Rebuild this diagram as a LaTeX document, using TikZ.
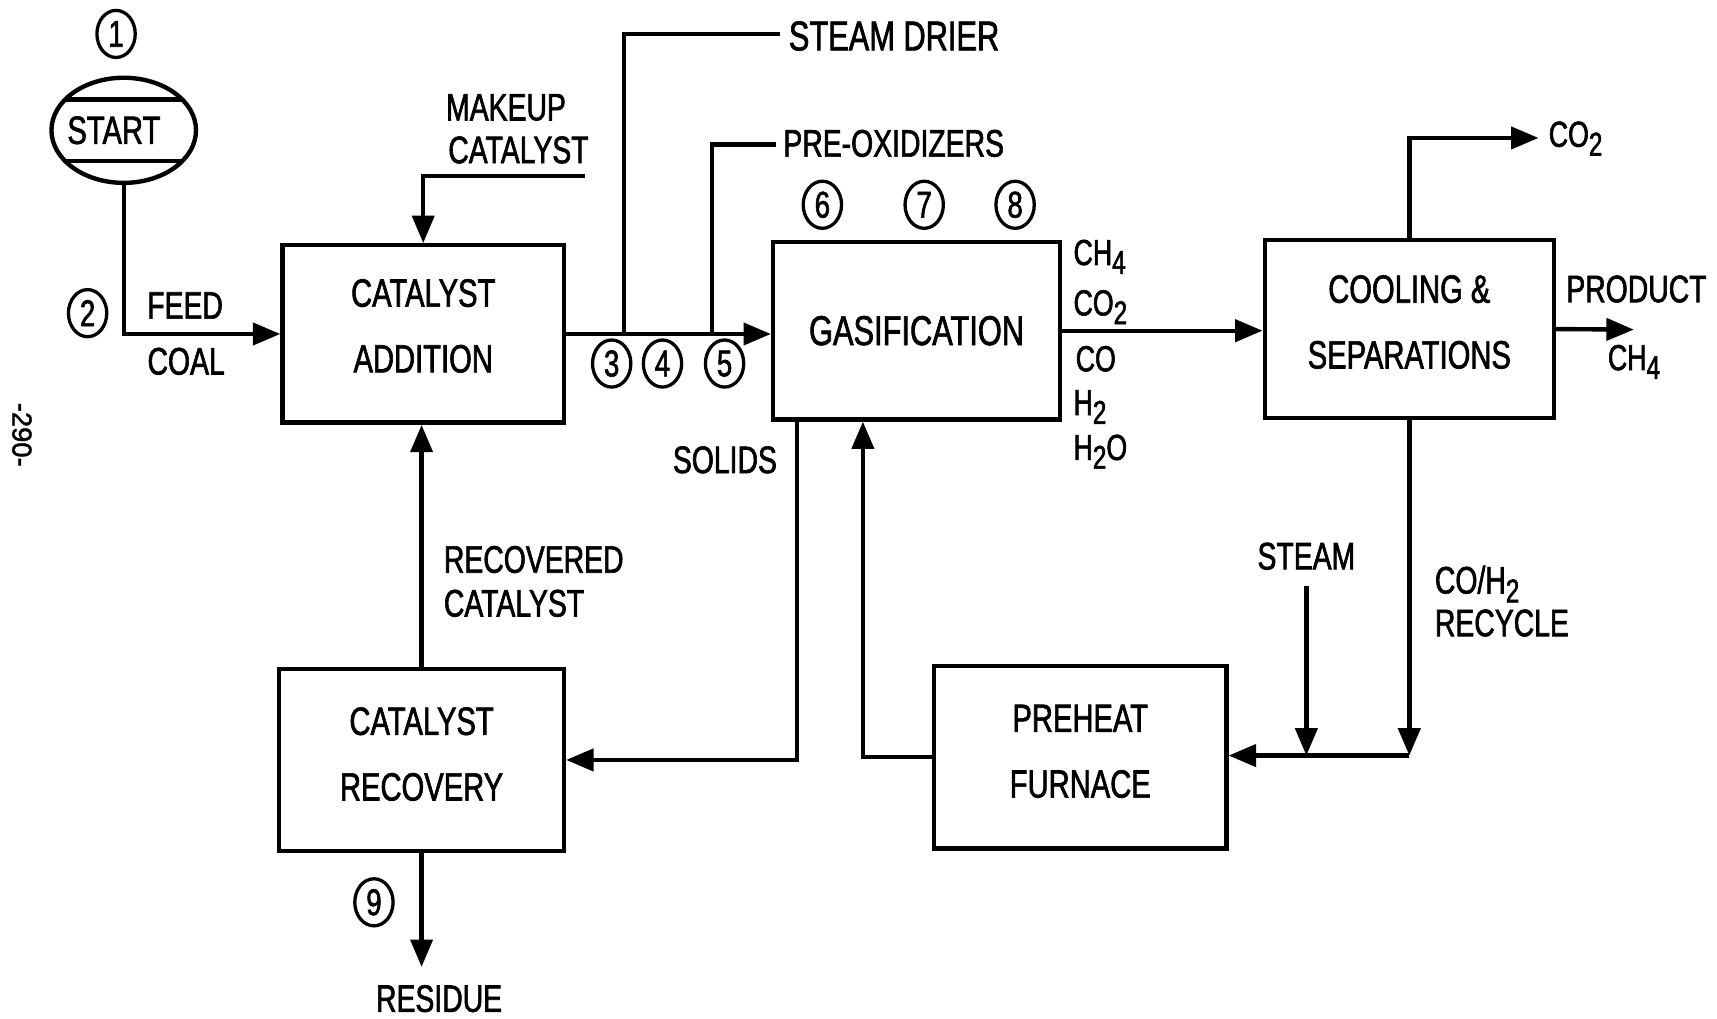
\documentclass[tikz,border=0pt]{standalone}
\usepackage{fontspec}
\setmainfont{Liberation Sans}[FakeStretch=0.74, FakeBold=1.6]
\newfontfamily\plainsans{Liberation Sans}[FakeBold=1.6]
\usetikzlibrary{arrows.meta,shapes.geometric,calc}
\newcommand{\sbs}[1]{\raisebox{-4pt}{\fontsize{15}{15}\selectfont #1}}
\tikzset{
  lw/.style={line width=2pt},
  arr/.style={lw, -{Triangle[length=12.5pt,width=10pt]}},
  blk/.style={draw, lw, rectangle, inner sep=0pt, align=center, font=\fontsize{18}{30}\selectfont},
  lbl/.style={inner sep=0pt, anchor=base, font=\fontsize{17.5}{20}\selectfont},
  spc/.style={inner sep=0pt, anchor=base west, font=\fontsize{16.5}{18}\selectfont},
  circnum/.style={draw, ellipse, line width=1.5pt, minimum width=17.5pt, minimum height=21.5pt, inner sep=0pt, font=\fontsize{17}{17}\selectfont},
  startshape/.style={draw, ellipse, lw, minimum width=66pt, minimum height=48pt, inner sep=0pt, font=\fontsize{18}{20}\selectfont}
}
\begin{document}
\begin{tikzpicture}[x=0.5pt,y=-0.5pt]
\useasboundingbox (0,0) rectangle (1568,930);

% start
\node[circnum] (c1) at (106,31) {1};
\node[startshape] (start) at (113,119) {\hspace*{-9pt}START};
\draw[lw] ($(start.center)+(-53.6,-28)$) -- ($(start.center)+(53.6,-28)$);
\draw[lw] ($(start.center)+(-53.6,28)$) -- ($(start.center)+(53.6,28)$);

% catalyst addition
\node[blk, minimum width=128.5pt, minimum height=81pt, text depth=7.5pt] (cadd) at (386.5,305) {CATALYST\\ADDITION};
\draw[arr] (start.south) |- (cadd.west);
\node[circnum] (c2) at (80,286) {2};
\node[lbl] (feed) at (169,291) {FEED};
\node[lbl] (coal) at (170,342) {COAL};

% makeup catalyst
\coordinate (mk) at (534,161);
\draw[arr] (mk) -| (cadd.north);
\node[lbl, anchor=base west] (makeup) at (407,110) {MAKEUP};
\node[lbl, anchor=base west] (makecat) at (409,149) {CATALYST};

% gasification
\node[blk, minimum width=131pt, minimum height=81pt, font=\fontsize{19}{20}\selectfont] (gas) at (837,302) {GASIFICATION};
\draw[arr] (cadd.east) -- (cadd.east -| gas.west);

\coordinate (j3) at (570,305);
\coordinate (sd) at (712,31);
\draw[lw] (sd) -| (j3);
\node[lbl, anchor=base west, font=\fontsize{19}{20}\selectfont] (sdl) at (720,46) {STEAM DRIER};
\coordinate (j5) at (650,305);
\coordinate (po) at (709,132);
\draw[lw] (po) -| (j5);
\node[lbl, anchor=base west] (pol) at (715,143) {PRE-OXIDIZERS};

\node[circnum] (c3) at (558.6,332) {3};
\node[circnum] (c4) at (605,332) {4};
\node[circnum] (c5) at (661.7,332) {5};
\node[circnum] (c6) at (751,187) {6};
\node[circnum] (c7) at (844,187) {7};
\node[circnum] (c8) at (927,187) {8};

% gas species
\node[spc] (sch4) at (980,242) {CH\sbs{4}};
\node[spc] (sco2) at (980,288) {CO\sbs{2}};
\node[spc] (sco) at (982,339) {CO};
\node[spc] (sh2) at (980,379) {H\sbs{2}};
\node[spc] (sh2o) at (980,420) {H\sbs{2}O};

% cooling & separations
\node[blk, minimum width=132pt, minimum height=81.5pt, text depth=6.6pt] (cool) at (1287,300.5) {COOLING \&\\SEPARATIONS};
\draw[arr] (gas.east) -- (gas.east -| cool.west);
\coordinate (co2tip) at (1405,126);
\draw[arr] (cool.north) |- (co2tip);
\node[spc] (co2t) at (1414,134) {CO\sbs{2}};
\coordinate (prodtip) at (1492,301);
\draw[arr] (cool.east) -- (prodtip);
\node[lbl, anchor=base west] (prod) at (1430,276) {PRODUCT};
\node[spc] (prodch4) at (1468,338) {CH\sbs{4}};

% preheat furnace
\node[blk, minimum width=133.5pt, minimum height=83.5pt, text depth=5.5pt] (pre) at (986.5,691.5) {PREHEAT\\FURNACE};
\coordinate (jr) at (1287,690);
\draw[arr] (cool.south) -- (jr);
\coordinate (st) at (1193,535);
\coordinate (js) at (1193,690);
\draw[arr] (st) -- (js);
\draw[arr] (jr) -- (jr -| pre.east);
\node[lbl] (steam) at (1193,520) {STEAM};
\node[lbl, anchor=base west] (coh2) at (1310,542) {CO/H\sbs{2}};
\node[lbl, anchor=base west] (recy) at (1310,581) {RECYCLE};
\draw[arr] (pre.west) -| ([xshift=-24.5pt]gas.south);

% catalyst recovery
\node[blk, minimum width=130pt, minimum height=83pt, text depth=5.5pt] (crec) at (385,694) {CATALYST\\RECOVERY};
\draw[arr] ([xshift=-54.5pt]gas.south) |- (crec.east);
\node[lbl] (solids) at (662,432) {SOLIDS};
\draw[arr] (crec.north) -- (crec.north |- cadd.south);
\node[lbl, anchor=base west] (rc1) at (405,523) {RECOVERED};
\node[lbl, anchor=base west] (rc2) at (405,563) {CATALYST};
\coordinate (restip) at (385,883);
\draw[arr] (crec.south) -- (restip);
\node[circnum] (c9) at (341.5,824) {9};
\node[lbl] (res) at (401,924) {RESIDUE};

% page number
\node[inner sep=0pt, rotate=-90, font=\plainsans\fontsize{12.5}{14}\selectfont] (pg) at (20,397) {-290-};
\end{tikzpicture}
\end{document}
